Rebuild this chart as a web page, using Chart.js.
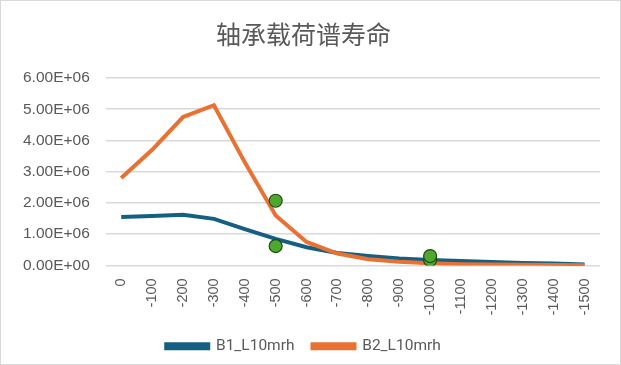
<!DOCTYPE html>
<html>
<head>
<meta charset="utf-8">
<script src="https://cdn.jsdelivr.net/npm/chart.js@4/dist/chart.umd.min.js"></script>
<style>
  html, body { margin: 0; padding: 0; background: #fff; }
  #wrap { position: relative; width: 619px; height: 363px; border: 1px solid #d9d9d9; }
</style>
</head>
<body>
<div id="wrap"><canvas id="myChart"></canvas></div>
<script>
const categorias = ['0','-100','-200','-300','-400','-500','-600','-700','-800','-900','-1000','-1100','-1200','-1300','-1400','-1500'];
const b1 = [1.55e6, 1.58e6, 1.62e6, 1.49e6, 1.16e6, 0.85e6, 0.58e6, 0.40e6, 0.30e6, 0.22e6, 0.17e6, 0.14e6, 0.11e6, 0.08e6, 0.06e6, 0.03e6];
const b2 = [2.80e6, 3.70e6, 4.75e6, 5.13e6, 3.30e6, 1.60e6, 0.75e6, 0.38e6, 0.20e6, 0.12e6, 0.07e6, 0.04e6, 0.03e6, 0.02e6, 0.01e6, 0.005e6];
// puntos verdes (dos por categoria)
const puntosA = [null, null, null, null, null, 2.07e6, null, null, null, null, 0.30e6, null, null, null, null, null];
const puntosB = [null, null, null, null, null, 0.62e6, null, null, null, null, 0.17e6, null, null, null, null, null];

const gris = '#595959';

function formatoE(v){
    if (v === 0) return '0.00E+00';
    let e = Math.floor(Math.log10(Math.abs(v)));
    let m = v / Math.pow(10, e);
    return m.toFixed(2) + 'E+' + String(e).padStart(2, '0');
}

const ctx = document.getElementById('myChart');

const myChart = new Chart(ctx, {
    type: 'line',
    data: {
        labels: categorias,
        datasets: [
            {
                label: 'B1_L10mrh',
                data: b1,
                borderColor: '#156082',
                backgroundColor: '#156082',
                borderWidth: 4,
                pointRadius: 0,
                tension: 0,
                order: 2
            },
            {
                label: 'B2_L10mrh',
                data: b2,
                borderColor: '#E97132',
                backgroundColor: '#E97132',
                borderWidth: 4,
                pointRadius: 0,
                tension: 0,
                order: 1
            },
            {
                label: 'pA',
                data: puntosA,
                showLine: false,
                pointRadius: 6.5,
                pointBackgroundColor: '#4EA72E',
                pointBorderColor: '#1E4A12',
                pointBorderWidth: 1.2,
                order: 0
            },
            {
                label: 'pB',
                data: puntosB,
                showLine: false,
                pointRadius: 6.5,
                pointBackgroundColor: '#4EA72E',
                pointBorderColor: '#1E4A12',
                pointBorderWidth: 1.2,
                order: 0
            }
        ]
    },
    options: {
        responsive: true,
        maintainAspectRatio: false,
        animation: false,
        layout: { padding: { left: 6, right: 20, top: 12, bottom: 0 } },
        plugins: {
            title: {
                display: true,
                text: '轴承载荷谱寿命',
                color: gris,
                font: { family: '"Noto Sans CJK SC", sans-serif', size: 25, weight: 'normal' },
                padding: { top: 6, bottom: 29 }
            },
            legend: {
                position: 'bottom',
                labels: {
                    color: gris,
                    font: { family: 'Roboto, "Noto Sans", sans-serif', size: 15.5 },
                    boxWidth: 42,
                    boxHeight: 4,
                    padding: 18,
                    sort: (a, b) => a.datasetIndex - b.datasetIndex,
                    filter: item => item.text.startsWith('B')
                }
            },
            tooltip: { enabled: false }
        },
        scales: {
            x: {
                offset: true,
                grid: { display: false },
                border: { display: false },
                ticks: {
                    color: gris,
                    minRotation: 90,
                    maxRotation: 90,
                    autoSkip: false,
                    padding: 5,
                    font: { family: '"Liberation Sans", Arial, sans-serif', size: 14.5 }
                }
            },
            y: {
                min: 0,
                max: 6e6,
                grid: { color: '#d9d9d9', lineWidth: 1.5, drawTicks: false },
                border: { display: false },
                ticks: {
                    stepSize: 1e6,
                    color: gris,
                    padding: 16,
                    font: { family: '"Liberation Sans", Arial, sans-serif', size: 15.5 },
                    callback: v => formatoE(v)
                }
            }
        }
    }
});
</script>
</body>
</html>
